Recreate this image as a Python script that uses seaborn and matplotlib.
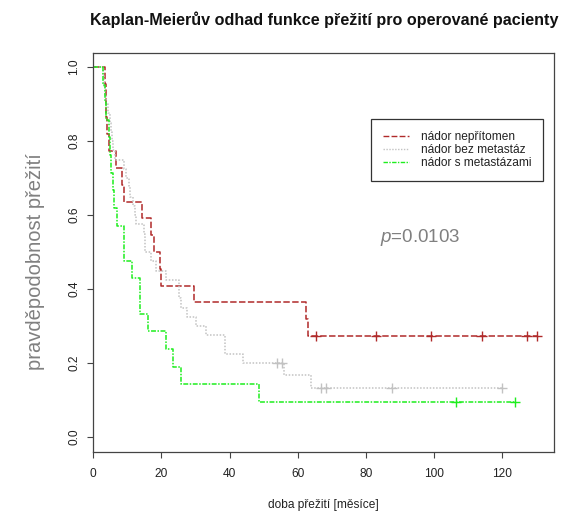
import matplotlib
matplotlib.use("Agg")
import matplotlib.pyplot as plt
from matplotlib.lines import Line2D
import pandas as pd
import seaborn as sns

# Groups of operated patients
groups = ["nádor nepřítomen", "nádor bez metastáz", "nádor s metastázami"]

# Kaplan-Meier step functions: time of each step (months) and survival after it.
# The last point closes the curve at the end of follow-up.
absent_time = [0, 3.4, 3.6, 3.8, 4.1, 4.6, 6.6, 8.3, 8.9, 14.4, 16.8, 17.8,
               19.5, 20.0, 29.5, 62.3, 63.1, 130.1]
absent_surv = [1.0, 0.955, 0.909, 0.864, 0.818, 0.773, 0.727, 0.682, 0.636,
               0.591, 0.545, 0.500, 0.455, 0.409, 0.364, 0.318, 0.273, 0.273]

nometa_time = [0, 2.7, 3.0, 3.4, 3.8, 4.2, 4.8, 5.2, 5.5, 5.9, 6.3, 8.9, 9.7,
               10.6, 10.9, 11.6, 12.1, 12.5, 14.9, 15.1, 17.0, 18.5, 21.2,
               25.0, 25.8, 27.6, 30.2, 33.0, 38.5, 43.9, 55.9, 63.8, 119.8]
nometa_surv = [1.0, 0.975, 0.95, 0.925, 0.9, 0.875, 0.85, 0.825, 0.8, 0.775,
               0.75, 0.725, 0.7, 0.675, 0.65, 0.625, 0.6, 0.575, 0.55, 0.5,
               0.475, 0.45, 0.425, 0.375, 0.35, 0.325, 0.3, 0.275, 0.225, 0.2,
               0.167, 0.133, 0.133]

meta_time = [0, 2.8, 3.4, 3.7, 4.5, 4.8, 5.2, 5.7, 6.2, 7.0, 9.0, 11.4, 13.8,
             16.0, 21.2, 23.4, 25.8, 48.6, 123.7]
meta_surv = [1.0, 0.952, 0.905, 0.857, 0.810, 0.762, 0.714, 0.667, 0.619,
             0.571, 0.476, 0.429, 0.333, 0.286, 0.238, 0.190, 0.143, 0.095,
             0.095]

# Censored observations (+ marks)
absent_cens_time = [65.2, 82.9, 99.1, 113.9, 127.1, 130.1]
absent_cens_surv = [0.273, 0.273, 0.273, 0.273, 0.273, 0.273]
nometa_cens_time = [54.0, 55.3, 66.9, 68.2, 87.5, 119.8]
nometa_cens_surv = [0.2, 0.2, 0.133, 0.133, 0.133, 0.133]
meta_cens_time = [106.5, 123.7]
meta_cens_surv = [0.095, 0.095]

p_value_text = "0.0103"

x_ticks = [0, 20, 40, 60, 80, 100, 120]
y_ticks = [0.0, 0.2, 0.4, 0.6, 0.8, 1.0]

sns.set_theme(style="ticks")
plt.rcParams["font.family"] = ["Liberation Sans", "DejaVu Sans"]
plt.rcParams["mathtext.fontset"] = "custom"
plt.rcParams["mathtext.it"] = "Liberation Sans:italic"
plt.rcParams["mathtext.rm"] = "Liberation Sans"

curves = pd.concat([
    pd.DataFrame({"group": groups[0], "time": absent_time, "surv": absent_surv}),
    pd.DataFrame({"group": groups[1], "time": nometa_time, "surv": nometa_surv}),
    pd.DataFrame({"group": groups[2], "time": meta_time, "surv": meta_surv}),
], ignore_index=True)

censored = pd.concat([
    pd.DataFrame({"group": groups[0], "time": absent_cens_time, "surv": absent_cens_surv}),
    pd.DataFrame({"group": groups[1], "time": nometa_cens_time, "surv": nometa_cens_surv}),
    pd.DataFrame({"group": groups[2], "time": meta_cens_time, "surv": meta_cens_surv}),
], ignore_index=True)

palette = {groups[0]: "#B02A2A", groups[1]: "#C2C2C2", groups[2]: "#1EEE1E"}
dashes = {groups[0]: (4.2, 1.6), groups[1]: (1.0, 1.1), groups[2]: (3.2, 1.0, 1.0, 1.0)}

fig = plt.figure(figsize=(5.62, 5.16), dpi=100)
ax = fig.add_axes([93.3 / 562, 1 - 452.3 / 516, (553.5 - 93.3) / 562, (452.3 - 52.7) / 516])

sns.lineplot(data=curves, x="time", y="surv", hue="group", style="group",
             palette=palette, dashes=dashes, drawstyle="steps-post",
             estimator=None, sort=False, linewidth=1.1, legend=False, ax=ax)

sns.scatterplot(data=censored, x="time", y="surv", hue="group", palette=palette,
                marker="+", s=55, linewidth=1.0, legend=False, ax=ax, zorder=3)

ax.set_xlim(0, 135)
ax.set_ylim(-0.041, 1.039)
ax.set_xticks(x_ticks)
ax.set_xticklabels([str(t) for t in x_ticks])
ax.set_yticks(y_ticks)
ax.set_yticklabels([f"{t:.1f}" for t in y_ticks], rotation=90, va="center")

for spine in ax.spines.values():
    spine.set_visible(True)
    spine.set_color("#444444")
    spine.set_linewidth(0.9)

ax.tick_params(axis="both", direction="out", length=4.3, width=0.8,
               color="#444444", labelsize=8.6, labelcolor="#222222")
ax.tick_params(axis="x", pad=7)
ax.tick_params(axis="y", pad=5)

ax.set_xlabel("doba přežití [měsíce]", fontsize=8.6, color="#222222", labelpad=14)
ax.set_ylabel("pravděpodobnost přežití", fontsize=14.5, color="#808080")
ax.yaxis.set_label_coords(-0.105, 0.476)

fig.text(324 / 562, 1 - 20 / 516,
         "Kaplan-Meierův odhad funkce přežití pro operované pacienty",
         ha="center", va="center", fontsize=11.6, fontweight="bold", color="#111111")

ax.text(96, 0.54, r"$p$=" + p_value_text, ha="center", va="center",
        fontsize=13.5, color="#808080")

handles = [Line2D([0], [0], color=palette[g], linewidth=1.0,
                  dashes=dashes[g]) for g in groups]
leg = ax.legend(handles, groups, loc="upper left", bbox_to_anchor=(0.603, 0.834),
                borderaxespad=0, fontsize=8.6, frameon=True, fancybox=False,
                edgecolor="#333333", framealpha=1, handlelength=2.2,
                handletextpad=1.0, labelspacing=0.1, borderpad=1.0)
leg.get_frame().set_linewidth(0.9)
for txt in leg.get_texts():
    txt.set_color("#222222")

fig.savefig("out.png", dpi=100)
